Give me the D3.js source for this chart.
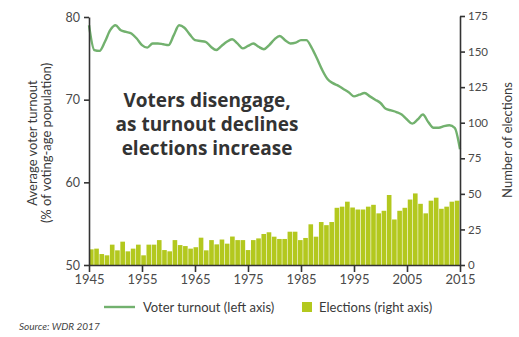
<!DOCTYPE html>
<html>
<head>
<meta charset="utf-8">
<script src="https://cdn.jsdelivr.net/npm/d3@7"></script>
<style>
  html, body { margin: 0; padding: 0; background: #fff; }
  svg { display: block; }
  .axis text { font-family: Lato, "Open Sans", sans-serif; fill: #4a4a4a; }
  .axis path, .axis line { stroke: #333; stroke-width: 1.6; }
</style>
</head>
<body>
<svg id="chart" width="519" height="337"></svg>
<script>
// Years covered
const years = d3.range(1945, 2016);

// Average voter turnout (% of voting-age population), left axis
const turnout = [
  79.0, 76.0, 75.9, 77.0, 78.4, 79.0, 78.4, 78.2, 78.0, 77.4,
  76.6, 76.3, 76.8, 76.8, 76.7, 76.6, 77.8, 79.0, 78.7, 77.9,
  77.2, 77.1, 77.0, 76.4, 76.0, 76.5, 77.0, 77.3, 76.8, 76.2,
  76.5, 76.8, 76.4, 76.1, 76.6, 77.3, 77.7, 77.2, 76.8, 76.9,
  77.2, 77.2, 76.3, 75.0, 73.6, 72.5, 72.0, 71.7, 71.3, 70.9,
  70.4, 70.6, 70.8, 70.4, 70.0, 69.6, 68.9, 68.7, 68.5, 68.2,
  67.6, 67.1, 67.6, 68.2, 67.3, 66.6, 66.6, 66.8, 66.9, 66.6,
  64.0
];

// Number of elections held each year, right axis
const elections = [
  11, 11.5, 7.7, 6.8, 14.3, 10.3, 16.4, 9.6, 11.5, 14.3,
  6.8, 14.3, 14.3, 17.5, 10.5, 9.6, 17.5, 14, 13.3, 11.5,
  12.5, 19.2, 10.3, 17.5, 14.5, 17.9, 15, 20, 17.5, 17.5,
  10.5, 17.5, 18.7, 21.8, 23, 19.9, 18.3, 18.3, 23.4, 23.4,
  17.5, 19, 28.6, 19.9, 30.2, 28, 30.2, 40.2, 41, 44.5,
  40.4, 39, 39, 41, 42.3, 36.3, 38.1, 49.2, 32, 38.1,
  40.2, 46, 50.3, 43, 36.3, 45.2, 47.3, 39.5, 41, 44.5,
  45.2
];

const leftTicks = [50, 60, 70, 80];
const rightTicks = [0, 25, 50, 75, 100, 125, 150, 175];
const xTicks = [1945, 1955, 1965, 1975, 1985, 1995, 2005, 2015];

const titleLines = ["Voters disengage,", "as turnout declines", "elections increase"];
const legendItems = ["Voter turnout (left axis)", "Elections (right axis)"];

const lineColor = "#72b16e";
const barColor = "#b3c81e";

const svg = d3.select("#chart");
const plot = { left: 89, right: 460, top: 17, bottom: 265 };

const x = d3.scaleLinear().domain([1945, 2015]).range([plot.left, plot.right]);
const xBand = d3.scaleBand().domain(years).range([plot.left, plot.right]).padding(0);
const yLeft = d3.scaleLinear().domain([50, 80]).range([plot.bottom, plot.top]);
const yRight = d3.scaleLinear().domain([0, 175]).range([plot.bottom, 16]);

// Election bars
svg.append("g")
  .selectAll("rect")
  .data(years)
  .join("rect")
  .attr("x", (d) => xBand(d))
  .attr("width", xBand.bandwidth() - 0.6)
  .attr("y", (d, i) => yRight(elections[i]))
  .attr("height", (d, i) => plot.bottom - yRight(elections[i]))
  .attr("fill", barColor);

// Turnout line
const line = d3.line()
  .x((d, i) => x(years[i]))
  .y((d) => yLeft(d))
  .curve(d3.curveMonotoneX);

svg.append("path")
  .datum(turnout)
  .attr("d", line)
  .attr("fill", "none")
  .attr("stroke", lineColor)
  .attr("stroke-width", 2.4)
  .attr("stroke-linejoin", "round");

// Axes
const gL = svg.append("g")
  .attr("class", "axis")
  .attr("transform", `translate(${plot.left},0)`)
  .call(d3.axisLeft(yLeft).tickValues(leftTicks).tickSize(5).tickPadding(4).tickSizeOuter(0));
gL.selectAll("text").style("font-size", "12.5px");

const gR = svg.append("g")
  .attr("class", "axis")
  .attr("transform", `translate(${plot.right},0)`)
  .call(d3.axisRight(yRight).tickValues(rightTicks).tickSize(5).tickPadding(3).tickSizeOuter(0));
gR.selectAll("text").style("font-size", "11.5px");

const gX = svg.append("g")
  .attr("class", "axis")
  .attr("transform", `translate(0,${plot.bottom})`)
  .call(d3.axisBottom(x).tickValues(xTicks).tickFormat(d3.format("d")).tickSize(7).tickPadding(3).tickSizeOuter(0));
gX.selectAll("text").style("font-size", "13px");

// Axis titles
const leftTitle = svg.append("text")
  .attr("transform", "translate(37,143) rotate(-90)")
  .attr("text-anchor", "middle")
  .style("font-family", "Lato, 'Open Sans', sans-serif")
  .style("font-size", "13px")
  .style("fill", "#3a3a3a");
leftTitle.append("tspan").attr("x", 0).attr("dy", 0).text("Average voter turnout");
leftTitle.append("tspan").attr("x", 0).attr("dy", 14).text("(% of voting-age population)");

svg.append("text")
  .attr("transform", "translate(512,140) rotate(-90)")
  .attr("text-anchor", "middle")
  .style("font-family", "Lato, 'Open Sans', sans-serif")
  .style("font-size", "13px")
  .style("fill", "#3a3a3a")
  .text("Number of elections");

// Headline annotation
svg.append("g")
  .selectAll("text")
  .data(titleLines)
  .join("text")
  .attr("x", 207)
  .attr("y", (d, i) => 107 + i * 24)
  .attr("text-anchor", "middle")
  .style("font-family", "'Open Sans', sans-serif")
  .style("font-weight", "700")
  .style("font-size", "19px")
  .style("fill", "#333")
  .text((d) => d);

// Legend
const legend = svg.append("g").style("font-family", "Lato, 'Open Sans', sans-serif").style("font-size", "13px");
legend.append("line")
  .attr("x1", 104).attr("x2", 135).attr("y1", 307).attr("y2", 307)
  .attr("stroke", lineColor).attr("stroke-width", 2.4);
legend.append("text").attr("x", 143).attr("y", 312).style("fill", "#3a3a3a").text(legendItems[0]);
legend.append("rect")
  .attr("x", 302).attr("y", 302).attr("width", 10).attr("height", 10)
  .attr("fill", barColor);
legend.append("text").attr("x", 319).attr("y", 312).style("fill", "#3a3a3a").text(legendItems[1]);

// Source note
svg.append("text")
  .attr("x", 19).attr("y", 330)
  .style("font-family", "Lato, 'Open Sans', sans-serif")
  .style("font-size", "10px")
  .style("font-style", "italic")
  .style("fill", "#444")
  .text("Source: WDR 2017");
</script>
</body>
</html>
